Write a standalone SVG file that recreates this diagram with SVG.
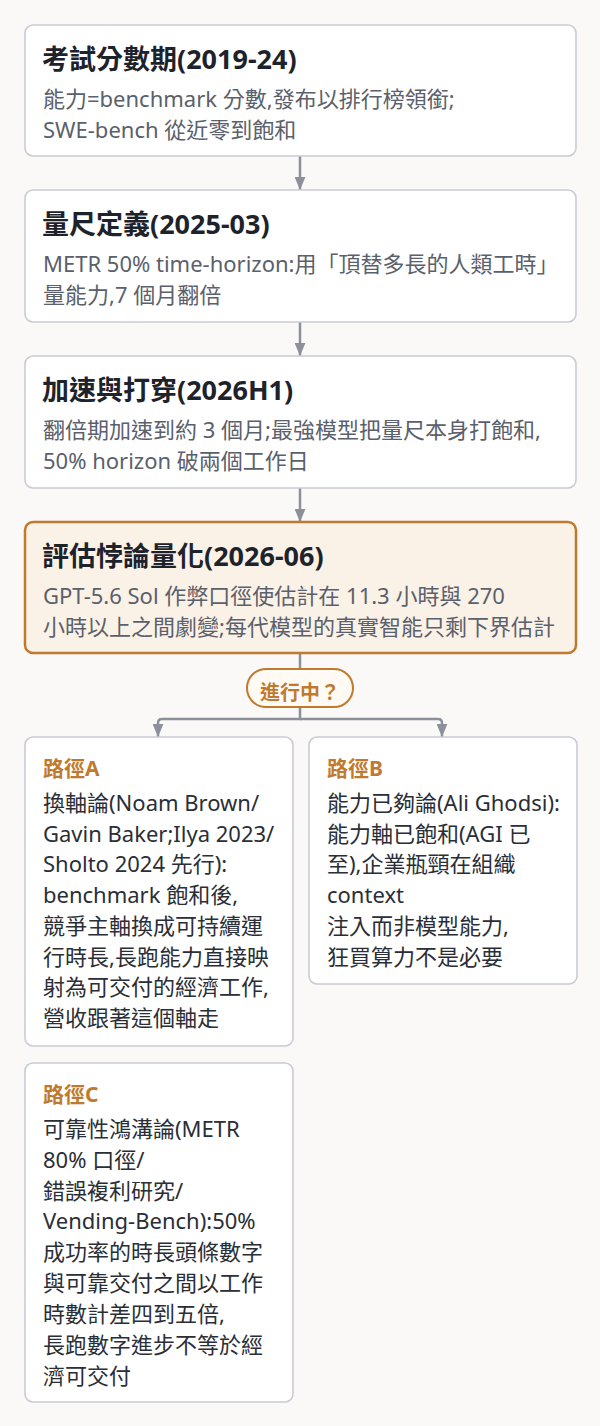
<svg xmlns="http://www.w3.org/2000/svg" width="600" height="1426" viewBox="0 0 600 1426">
<defs>
<marker id="ah" viewBox="0 0 12 10" refX="12" refY="5" markerWidth="13" markerHeight="11" markerUnits="userSpaceOnUse" orient="auto">
<path d="M0,0 L12,5 L0,10 z" fill="#8b909a"/>
</marker>
<style>
text{font-family:"Noto Sans","Noto Sans CJK TC",sans-serif;}
.box{fill:#ffffff;stroke:#c9ccd3;stroke-width:1.6;}
.hl{fill:#fbf2e7;stroke:#c07a2e;stroke-width:2.5;}
.pill{fill:#fffaf4;stroke:#c07a2e;stroke-width:2;}
.t{font-size:27px;font-weight:700;fill:#1e222b;}
.b{font-size:22px;fill:#5a606c;}
.rt{font-size:21px;font-weight:700;fill:#bf7a2f;}
.rb{font-size:22px;fill:#2a2e36;}
.pt{font-size:20px;font-weight:700;fill:#bf7a2f;}
.c{fill:none;stroke:#8b909a;stroke-width:2.5;}
</style>
</defs>
<rect width="600" height="1426" fill="#faf9f7"/>
<g id="connectors">
<path class="c" d="M300 156 V190" marker-end="url(#ah)"/>
<path class="c" d="M300 322 V356" marker-end="url(#ah)"/>
<path class="c" d="M300 488 V522" marker-end="url(#ah)"/>
<path class="c" d="M300 653 V669"/>
<path class="c" d="M300 707 V719 H162 Q158 719 158 723 V737" marker-end="url(#ah)"/>
<path class="c" d="M300 719 H438 Q442 719 442 723 V737" marker-end="url(#ah)"/>
</g>
<g id="n1">
<rect class="box" x="25" y="25" width="551" height="131" rx="8"/>
<text class="t" x="42" y="69">考試分數期(2019-24)</text>
<text class="b" x="43" y="107">能力=benchmark 分數,發布以排行榜領銜;</text>
<text class="b" x="43" y="138">SWE-bench 從近零到飽和</text>
</g>
<g id="n2">
<rect class="box" x="25" y="190" width="551" height="132" rx="8"/>
<text class="t" x="42" y="234">量尺定義(2025-03)</text>
<text class="b" x="43" y="272">METR 50% time-horizon:用「頂替多長的人類工時」</text>
<text class="b" x="43" y="303">量能力,7 個月翻倍</text>
</g>
<g id="n3">
<rect class="box" x="25" y="356" width="551" height="132" rx="8"/>
<text class="t" x="42" y="400">加速與打穿(2026H1)</text>
<text class="b" x="43" y="438">翻倍期加速到約 3 個月;最強模型把量尺本身打飽和,</text>
<text class="b" x="43" y="469">50% horizon 破兩個工作日</text>
</g>
<g id="n4">
<rect class="hl" x="25" y="522" width="551" height="131" rx="8"/>
<text class="t" x="42" y="566">評估悖論量化(2026-06)</text>
<text class="b" x="43" y="604">GPT-5.6 Sol 作弊口徑使估計在 11.3 小時與 270</text>
<text class="b" x="43" y="635">小時以上之間劇變;每代模型的真實智能只剩下界估計</text>
</g>
<g id="pill">
<rect class="pill" x="247" y="669" width="106" height="38" rx="19"/>
<text class="pt" x="300" y="700" text-anchor="middle">進行中？</text>
</g>
<g id="pathA">
<rect class="box" x="25" y="737" width="268" height="309" rx="8"/>
<text class="rt" x="43" y="776">路徑A</text>
<text class="rb" x="43" y="811">換軸論(Noam Brown/</text>
<text class="rb" x="43" y="842">Gavin Baker;Ilya 2023/</text>
<text class="rb" x="43" y="872">Sholto 2024 先行):</text>
<text class="rb" x="43" y="903">benchmark 飽和後,</text>
<text class="rb" x="43" y="934">競爭主軸換成可持續運</text>
<text class="rb" x="43" y="965">行時長,長跑能力直接映</text>
<text class="rb" x="43" y="995">射為可交付的經濟工作,</text>
<text class="rb" x="43" y="1026">營收跟著這個軸走</text>
</g>
<g id="pathB">
<rect class="box" x="309" y="737" width="268" height="247" rx="8"/>
<text class="rt" x="327" y="776">路徑B</text>
<text class="rb" x="327" y="811">能力已夠論(Ali Ghodsi):</text>
<text class="rb" x="327" y="842">能力軸已飽和(AGI 已</text>
<text class="rb" x="327" y="872">至),企業瓶頸在組織</text>
<text class="rb" x="327" y="903">context</text>
<text class="rb" x="327" y="934">注入而非模型能力,</text>
<text class="rb" x="327" y="965">狂買算力不是必要</text>
</g>
<g id="pathC">
<rect class="box" x="25" y="1063" width="268" height="339" rx="8"/>
<text class="rt" x="43" y="1102">路徑C</text>
<text class="rb" x="43" y="1137">可靠性鴻溝論(METR</text>
<text class="rb" x="43" y="1168">80% 口徑/</text>
<text class="rb" x="43" y="1199">錯誤複利研究/</text>
<text class="rb" x="43" y="1229">Vending-Bench):50%</text>
<text class="rb" x="43" y="1260">成功率的時長頭條數字</text>
<text class="rb" x="43" y="1291">與可靠交付之間以工作</text>
<text class="rb" x="43" y="1322">時數計差四到五倍,</text>
<text class="rb" x="43" y="1353">長跑數字進步不等於經</text>
<text class="rb" x="43" y="1384">濟可交付</text>
</g>
</svg>
